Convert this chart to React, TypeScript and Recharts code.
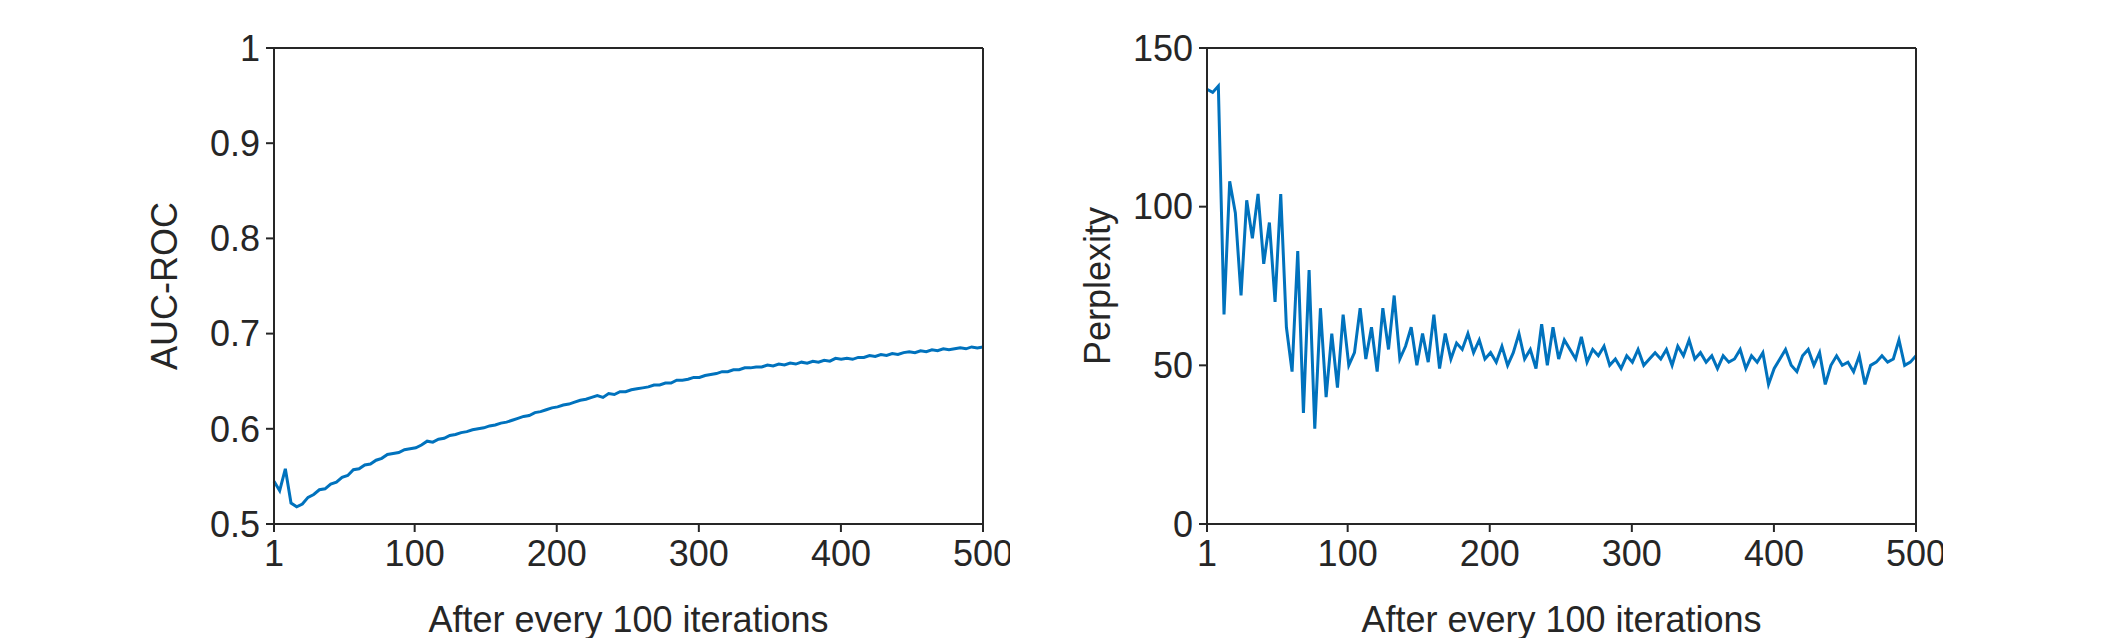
import { Line, LineChart, XAxis, YAxis } from "recharts"

const xTicks = [1, 100, 200, 300, 400, 500]
const aucTicks = [0.5, 0.6, 0.7, 0.8, 0.9, 1]
const pplTicks = [0, 50, 100, 150]

const aucValues = [
  0.545, 0.535, 0.558, 0.522, 0.518, 0.521, 0.528, 0.531, 0.536, 0.537, 0.542, 0.544, 0.549, 0.551,
  0.557, 0.558, 0.562, 0.563, 0.567, 0.569, 0.573, 0.574, 0.575, 0.578, 0.579, 0.58, 0.583, 0.587,
  0.586, 0.589, 0.59, 0.593, 0.594, 0.596, 0.597, 0.599, 0.6, 0.601, 0.603, 0.604, 0.606, 0.607,
  0.609, 0.611, 0.613, 0.614, 0.617, 0.618, 0.62, 0.622, 0.623, 0.625, 0.626, 0.628, 0.63, 0.631,
  0.633, 0.635, 0.633, 0.637, 0.636, 0.639, 0.639, 0.641, 0.642, 0.643, 0.644, 0.646, 0.646, 0.648,
  0.648, 0.651, 0.651, 0.652, 0.654, 0.654, 0.656, 0.657, 0.658, 0.66, 0.66, 0.662, 0.662, 0.664,
  0.664, 0.665, 0.665, 0.667, 0.666, 0.668, 0.667, 0.669, 0.668, 0.67, 0.669, 0.671, 0.67, 0.672,
  0.671, 0.674, 0.673, 0.674, 0.673, 0.675, 0.675, 0.677, 0.676, 0.678, 0.677, 0.679, 0.678, 0.68,
  0.681, 0.68, 0.682, 0.681, 0.683, 0.682, 0.684, 0.683, 0.684, 0.685, 0.684, 0.686, 0.685, 0.686,
]

const pplValues = [
  137, 136, 138, 66, 108, 98, 72, 102, 90, 104, 82, 95, 70, 104, 62, 48, 86, 35, 80, 30, 68, 40,
  60, 43, 66, 50, 54, 68, 52, 62, 48, 68, 55, 72, 52, 56, 62, 50, 60, 51, 66, 49, 60, 52, 57, 55,
  60, 54, 58, 52, 54, 51, 56, 50, 54, 60, 52, 55, 49, 63, 50, 62, 52, 58, 55, 52, 59, 51, 55, 53,
  56, 50, 52, 49, 53, 51, 55, 50, 52, 54, 52, 55, 50, 56, 53, 58, 52, 54, 51, 53, 49, 53, 51, 52,
  55, 49, 53, 51, 54, 44, 49, 52, 55, 50, 48, 53, 55, 50, 54, 44, 50, 53, 50, 51, 48, 53, 44, 50,
  51, 53, 51, 52, 58, 50, 51, 53,
]

const toRows = (values: number[]) =>
  values.map((v, i) => ({
    iter: Math.min(500, 1 + i * (499 / (values.length - 1))),
    v,
  }))

const FONT = "'Liberation Sans', Arial, Helvetica, sans-serif"
const tickStyle = { fontSize: 36, fill: "#262626", fontFamily: FONT }
const axisStroke = "#262626"

function Panel({
  left,
  values,
  yTicks,
  yDomain,
  yLabel,
}: {
  left: number
  values: number[]
  yTicks: number[]
  yDomain: [number, number]
  yLabel: string
}) {
  return (
    <div style={{ position: "absolute", left, top: 0 }}>
      <LineChart
        width={880}
        height={638}
        data={toRows(values)}
        margin={{ top: 47, right: 26, bottom: 0, left: 0 }}
      >
        <XAxis
          xAxisId="b"
          dataKey="iter"
          type="number"
          domain={[1, 500]}
          ticks={xTicks}
          height={114}
          stroke={axisStroke}
          strokeWidth={2}
          tickSize={8}
          tickMargin={8}
          tick={tickStyle}
          interval={0}
          label={{ value: "After every 100 iterations", position: "insideBottom", offset: 6, style: tickStyle }}
        />
        <XAxis
          xAxisId="t"
          dataKey="iter"
          type="number"
          orientation="top"
          domain={[1, 500]}
          ticks={xTicks}
          height={1}
          stroke={axisStroke}
          strokeWidth={2}
          tickLine={false}
          tick={false}
        />
        <YAxis
          yAxisId="l"
          domain={yDomain}
          ticks={yTicks}
          width={144}
          stroke={axisStroke}
          strokeWidth={2}
          tickSize={8}
          tickMargin={6}
          tick={tickStyle}
          interval={0}
          label={{ value: yLabel, angle: -90, position: "insideLeft", offset: 34, style: { ...tickStyle, textAnchor: "middle" } }}
        />
        <YAxis
          yAxisId="r"
          orientation="right"
          domain={yDomain}
          ticks={yTicks}
          width={1}
          stroke={axisStroke}
          strokeWidth={2}
          tickLine={false}
          tick={false}
        />
        <Line
          xAxisId="b"
          yAxisId="l"
          dataKey="v"
          stroke="#0072BD"
          strokeWidth={3}
          dot={false}
          isAnimationActive={false}
        />
      </LineChart>
    </div>
  )
}

export default function App() {
  return (
    <div style={{ position: "absolute", left: 0, top: 0, width: 2117, height: 638, background: "#fff" }}>
      <Panel left={130} values={aucValues} yTicks={aucTicks} yDomain={[0.5, 1]} yLabel="AUC-ROC" />
      <Panel left={1063} values={pplValues} yTicks={pplTicks} yDomain={[0, 150]} yLabel="Perplexity" />
    </div>
  )
}
